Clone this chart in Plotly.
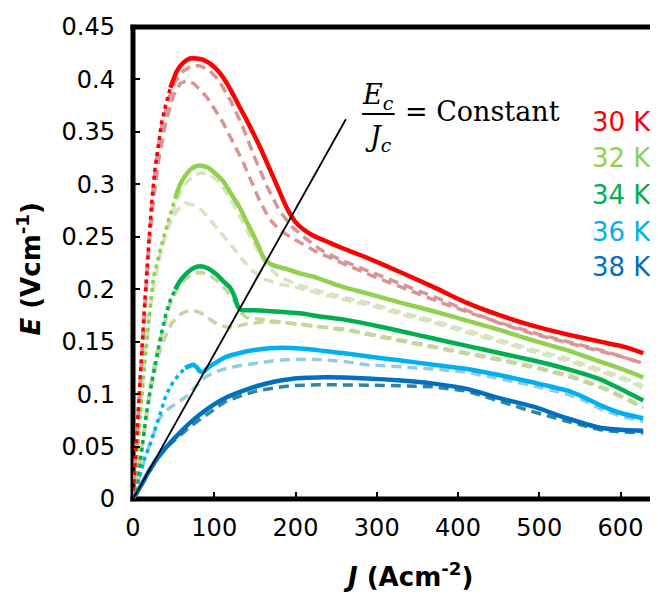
import plotly.graph_objects as go

# ---------------- data ----------------
J30 = [0, 3, 6.6, 10, 14, 18, 23, 27, 31, 35, 40, 46, 54, 62, 70, 78, 86, 95, 101, 107, 115, 123, 131, 140, 156, 172, 189, 200, 210, 222, 240, 255, 288, 330, 370, 411, 452, 493, 534, 575, 605, 628]
E30 = [0, 0.04, 0.093, 0.135, 0.182, 0.228, 0.283, 0.314, 0.338, 0.358, 0.375, 0.392, 0.408, 0.416, 0.420, 0.420, 0.419, 0.415, 0.411, 0.406, 0.397, 0.386, 0.374, 0.361, 0.336, 0.308, 0.278, 0.264, 0.257, 0.251, 0.245, 0.240, 0.230, 0.216, 0.202, 0.187, 0.175, 0.165, 0.157, 0.150, 0.145, 0.139]
J30a = [0, 5, 10, 15, 20, 25, 30, 36, 44, 52, 62, 72, 82, 92, 105, 120, 135, 150, 165, 180, 195, 210, 230, 255, 290, 330, 370, 410, 450, 490, 530, 570, 600, 625]
E30a = [0, 0.06, 0.125, 0.19, 0.25, 0.297, 0.33, 0.358, 0.382, 0.398, 0.408, 0.413, 0.413, 0.41, 0.40, 0.38, 0.355, 0.325, 0.298, 0.275, 0.26, 0.25, 0.238, 0.228, 0.217, 0.205, 0.193, 0.18, 0.168, 0.158, 0.15, 0.142, 0.136, 0.130]
J30b = [0, 5, 10, 15, 20, 26, 32, 40, 50, 58, 66, 75, 91, 110, 123, 135, 145, 156, 168, 181, 200, 225, 260, 300, 340, 380, 420, 460, 500, 540, 580, 625]
E30b = [0, 0.06, 0.125, 0.19, 0.245, 0.29, 0.325, 0.358, 0.385, 0.396, 0.399, 0.396, 0.383, 0.36, 0.34, 0.322, 0.304, 0.284, 0.267, 0.256, 0.247, 0.236, 0.224, 0.211, 0.199, 0.187, 0.176, 0.166, 0.157, 0.149, 0.141, 0.130]

J32 = [0, 4.5, 10.7, 16, 19, 25, 30, 35, 40, 45.6, 52, 58, 66, 74, 82.5, 92, 102, 111, 120, 132, 140, 148, 155, 160, 166, 172, 190, 206, 222, 255, 288, 330, 370, 411, 452, 493, 534, 575, 605, 628]
E32 = [0, 0.034, 0.096, 0.145, 0.168, 0.211, 0.228, 0.242, 0.256, 0.270, 0.287, 0.300, 0.310, 0.316, 0.318, 0.316, 0.310, 0.303, 0.292, 0.277, 0.264, 0.252, 0.240, 0.231, 0.226, 0.223, 0.219, 0.215, 0.212, 0.203, 0.196, 0.187, 0.179, 0.170, 0.161, 0.151, 0.142, 0.131, 0.123, 0.116]
J32a = [0, 5, 10, 15, 20, 27, 35, 45, 55, 65, 75, 85, 95, 105, 115, 125, 135, 145, 155, 165, 180, 200, 230, 260, 290, 330, 370, 410, 450, 490, 530, 570, 600, 628]
E32a = [0, 0.045, 0.095, 0.14, 0.175, 0.21, 0.238, 0.266, 0.287, 0.301, 0.309, 0.311, 0.309, 0.303, 0.292, 0.279, 0.264, 0.249, 0.235, 0.222, 0.212, 0.205, 0.198, 0.192, 0.187, 0.178, 0.17, 0.161, 0.152, 0.143, 0.135, 0.125, 0.117, 0.108]
J32b = [0, 5, 10, 15, 20, 27, 35, 45, 55, 65, 75, 85, 95, 105, 115, 125, 135, 148, 160, 180, 200, 230, 260, 290, 330, 370, 410, 450, 490, 530, 570, 600, 628]
E32b = [0, 0.045, 0.095, 0.14, 0.175, 0.21, 0.238, 0.262, 0.276, 0.282, 0.280, 0.275, 0.266, 0.257, 0.248, 0.238, 0.228, 0.217, 0.210, 0.205, 0.202, 0.196, 0.190, 0.185, 0.176, 0.168, 0.159, 0.150, 0.141, 0.133, 0.123, 0.115, 0.106]

J34 = [0, 4, 8.6, 12.5, 16.8, 22, 27, 31, 35, 40, 45.6, 52, 58, 66, 74, 82.5, 92, 103, 112, 119, 124, 128, 131, 135, 148, 170, 189, 206, 230, 260, 288, 330, 370, 411, 452, 493, 534, 575, 605, 628]
E34 = [0, 0.014, 0.034, 0.058, 0.083, 0.107, 0.127, 0.146, 0.158, 0.175, 0.189, 0.200, 0.208, 0.215, 0.220, 0.222, 0.220, 0.214, 0.207, 0.202, 0.195, 0.186, 0.181, 0.180, 0.180, 0.179, 0.178, 0.177, 0.174, 0.171, 0.167, 0.160, 0.153, 0.146, 0.139, 0.132, 0.124, 0.114, 0.103, 0.094]
J34a = [0, 5, 10, 16, 22, 28, 35, 45, 55, 65, 75, 85, 95, 105, 115, 125, 132, 140, 160, 190, 220, 260, 300, 340, 380, 420, 460, 500, 540, 580, 610, 628]
E34a = [0, 0.02, 0.042, 0.078, 0.11, 0.135, 0.157, 0.185, 0.201, 0.21, 0.215, 0.216, 0.213, 0.207, 0.199, 0.188, 0.178, 0.173, 0.171, 0.168, 0.165, 0.162, 0.156, 0.150, 0.144, 0.138, 0.132, 0.125, 0.117, 0.106, 0.095, 0.088]
J34b = [0, 5, 10, 16, 22, 30, 38, 48, 58, 66, 74, 84, 95, 105, 115, 125, 140, 165, 190, 214, 240, 270, 300, 340, 380, 420, 460, 500, 540, 580, 610, 628]
E34b = [0, 0.02, 0.042, 0.076, 0.105, 0.134, 0.152, 0.168, 0.176, 0.179, 0.180, 0.177, 0.171, 0.166, 0.164, 0.164, 0.167, 0.169, 0.168, 0.166, 0.163, 0.160, 0.155, 0.149, 0.143, 0.137, 0.131, 0.124, 0.116, 0.105, 0.094, 0.087]

J36 = [0, 5, 10, 14.8, 20, 27, 33, 39.4, 45, 51.7, 58, 64, 70, 74, 78, 82, 85, 88, 92, 100, 113, 130, 154, 175, 195, 215, 236, 260, 288, 330, 370, 411, 452, 493, 534, 555, 575, 600, 628]
E36 = [0, 0.013, 0.027, 0.040, 0.050, 0.065, 0.080, 0.096, 0.106, 0.114, 0.120, 0.125, 0.127, 0.128, 0.126, 0.122, 0.121, 0.122, 0.125, 0.129, 0.135, 0.139, 0.1425, 0.144, 0.144, 0.143, 0.141, 0.139, 0.136, 0.132, 0.128, 0.124, 0.118, 0.111, 0.1035, 0.097, 0.0895, 0.082, 0.077]
J36a = [0, 8, 16, 23, 31, 38, 43.5, 55, 68, 78, 88.7, 100, 113, 130, 154, 175, 195, 228, 260, 288, 330, 370, 411, 452, 493, 534, 555, 575, 600, 628]
E36a = [0, 0.021, 0.042, 0.057, 0.075, 0.082, 0.086, 0.092, 0.099, 0.108, 0.116, 0.121, 0.124, 0.127, 0.130, 0.132, 0.133, 0.133, 0.131, 0.128, 0.126, 0.124, 0.121, 0.1145, 0.108, 0.100, 0.094, 0.086, 0.079, 0.074]

J38 = [0, 10, 20, 31, 45, 60, 72, 90, 113, 135, 154, 175, 195, 215, 236, 260, 288, 330, 370, 411, 452, 493, 534, 575, 600, 628]
E38 = [0, 0.013, 0.027, 0.040, 0.053, 0.065, 0.074, 0.085, 0.096, 0.103, 0.108, 0.112, 0.1145, 0.1155, 0.116, 0.1158, 0.115, 0.113, 0.110, 0.105, 0.096, 0.088, 0.077, 0.068, 0.066, 0.065]
J38a = [0, 10, 20, 31, 45, 60, 72, 84.6, 100, 113, 135, 154, 175, 195, 228, 260, 288, 330, 370, 411, 452, 493, 534, 575, 600, 628]
E38a = [0, 0.013, 0.027, 0.040, 0.052, 0.062, 0.070, 0.077, 0.086, 0.0926, 0.099, 0.1035, 0.106, 0.108, 0.109, 0.109, 0.1085, 0.108, 0.107, 0.103, 0.0926, 0.083, 0.074, 0.066, 0.064, 0.063]

# Ec/Jc = constant guide line
J_line = [0, 262]
E_line = [0, 0.362]

temps = ["30 K", "32 K", "34 K", "36 K", "38 K"]
x_ticks = [0, 100, 200, 300, 400, 500, 600]
y_ticks = [0, 0.05, 0.1, 0.15, 0.2, 0.25, 0.3, 0.35, 0.4, 0.45]
y_ticktext = ["0", "0.05", "0.1", "0.15", "0.2", "0.25", "0.3", "0.35", "0.4", "0.45"]

# ---------------- styling ----------------
COL = ["#FF0000", "#92D050", "#00B050", "#00B0F0", "#0070C0"]
DCOL = ["#D99594", "#D7E4BD", "#C3D69B", "#93CDDD", "#31859C"]
RISE_END = [46, 52, 52, 64, 0]   # J where the open-circle chain merges into a line

fig = go.Figure()

def dashed(x, y, c):
    fig.add_trace(go.Scatter(x=x, y=y, mode="lines", showlegend=False, hoverinfo="skip",
                             line=dict(color=c, width=3.5, dash="10px,6px")))

def measured(x, y, c, rise_end):
    if rise_end > 0:
        xr = [a for a in x if a <= rise_end]
        yr = y[:len(xr)]
        fig.add_trace(go.Scatter(x=xr, y=yr, mode="lines", showlegend=False, hoverinfo="skip",
                                 line=dict(color=c, width=3.5, dash="4px,4px")))
        xs = x[len(xr) - 1:]
        ys = y[len(xr) - 1:]
    else:
        xs, ys = x, y
    fig.add_trace(go.Scatter(x=xs, y=ys, mode="lines", showlegend=False, hoverinfo="skip",
                             line=dict(color=c, width=4.5, shape="spline", smoothing=0.5)))

dashed(J38a, E38a, DCOL[4])
dashed(J36a, E36a, DCOL[3])
dashed(J34b, E34b, DCOL[2])
dashed(J34a, E34a, DCOL[2])
dashed(J32b, E32b, DCOL[1])
dashed(J32a, E32a, DCOL[1])
dashed(J30b, E30b, DCOL[0])
dashed(J30a, E30a, DCOL[0])

measured(J38, E38, COL[4], RISE_END[4])
measured(J36, E36, COL[3], RISE_END[3])
measured(J34, E34, COL[2], RISE_END[2])
measured(J32, E32, COL[1], RISE_END[1])
measured(J30, E30, COL[0], RISE_END[0])

fig.add_trace(go.Scatter(x=J_line, y=E_line, mode="lines", showlegend=False, hoverinfo="skip",
                         line=dict(color="black", width=1.8)))

TICKFONT = dict(family="DejaVu Sans", size=24, color="black")

annotations = []
legend_y = [0.359, 0.325, 0.290, 0.255, 0.221]
for t, c, yy in zip(temps, COL, legend_y):
    annotations.append(dict(x=1.0, xref="paper", y=yy, yref="y", text=t, showarrow=False,
                            xanchor="right", yanchor="middle",
                            font=dict(family="DejaVu Sans", size=26, color=c)))

SERIF = "DejaVu Serif"
annotations += [
    dict(x=302, y=0.384, xref="x", yref="y", text="<i>E<sub>c</sub></i>", showarrow=False,
         xanchor="center", yanchor="middle", font=dict(family=SERIF, size=27, color="black")),
    dict(x=302, y=0.344, xref="x", yref="y", text="<i>J<sub>c</sub></i>", showarrow=False,
         xanchor="center", yanchor="middle", font=dict(family=SERIF, size=27, color="black")),
    dict(x=332, y=0.369, xref="x", yref="y", text="= Constant", showarrow=False,
         xanchor="left", yanchor="middle", font=dict(family=SERIF, size=27, color="black")),
    dict(x=0.529, y=-0.162, xref="paper", yref="paper", text="<b><i>J</i> (Acm<sup>-2</sup>)</b>",
         showarrow=False, xanchor="center", yanchor="middle",
         font=dict(family="DejaVu Sans", size=26, color="black")),
    dict(x=-0.2, y=0.486, xref="paper", yref="paper", text="<b><i>E</i> (Vcm<sup>-1</sup>)</b>",
         showarrow=False, xanchor="center", yanchor="middle", textangle=-90,
         font=dict(family="DejaVu Sans", size=26, color="black")),
]

shapes = [
    # fraction bar
    dict(type="line", xref="x", yref="y", x0=282, x1=322, y0=0.367, y1=0.367,
         line=dict(color="black", width=2)),
    # frame: left, bottom, top
    dict(type="line", xref="paper", yref="paper", x0=0, x1=0, y0=-0.005, y1=1.005,
         line=dict(color="black", width=5), layer="below"),
    dict(type="line", xref="paper", yref="paper", x0=-0.005, x1=1, y0=0, y1=0,
         line=dict(color="black", width=5), layer="below"),
    dict(type="line", xref="paper", yref="paper", x0=-0.005, x1=1, y0=1, y1=1,
         line=dict(color="black", width=5), layer="below"),
]

# the page body has an 8px margin, so the figure is 8px smaller each way
fig.update_layout(
    width=650, height=587,
    margin=dict(l=125, r=5, t=10, b=96, pad=0),
    plot_bgcolor="white", paper_bgcolor="white",
    annotations=annotations, shapes=shapes,
    xaxis=dict(range=[0, 640], tickvals=x_ticks, ticks="inside", ticklen=7, tickwidth=2,
               tickcolor="black", showline=False, showgrid=False, zeroline=False,
               tickfont=TICKFONT, ticklabelstandoff=12, ticklabeloverflow="allow"),
    yaxis=dict(range=[0, 0.45], tickvals=y_ticks, ticktext=y_ticktext, ticks="inside",
               ticklen=7, tickwidth=2, tickcolor="black", showline=False, showgrid=False,
               zeroline=False, tickfont=TICKFONT, ticklabelstandoff=17, ticklabeloverflow="allow"),
)

fig.write_html("out.html")
